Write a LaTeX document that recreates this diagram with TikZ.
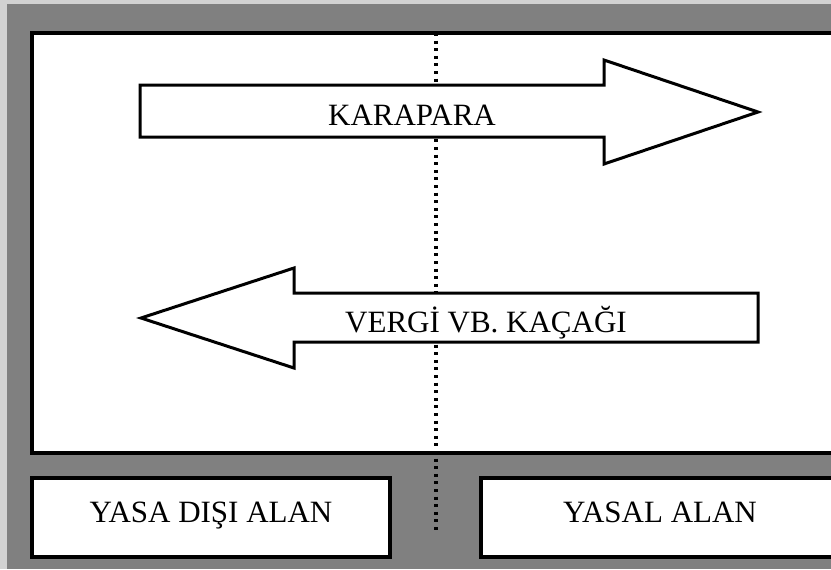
\documentclass[tikz,border=0pt]{standalone}
\usepackage{fontspec}
\setmainfont{Liberation Serif}
\usetikzlibrary{positioning}
\definecolor{figFrame}{HTML}{808080}
\definecolor{figEdge}{HTML}{D2D2D2}

\begin{document}
\begin{tikzpicture}[
  x=0.5pt,y=-0.5pt,
  font=\fontsize{15.5}{18}\selectfont,
  area/.style={draw=black,line width=1.6pt,fill=white},
  flow/.style={draw=black,line width=1.5pt,fill=white,line join=miter},
  lbl/.style={anchor=base,inner sep=0pt},
  border/.style={draw=black,line width=1.6pt,dash pattern=on 1.5pt off 2.3pt}
]
\useasboundingbox (0,0) rectangle (831,569);
\clip (0,0) rectangle (831,569);
% ---- Background ----
\fill[figEdge]  (0,0) rectangle (831,569);
\fill[figFrame] (7,4) rectangle (831,569);

% ---- Areas ----
\draw[area] (32,33)  rectangle (845,453);
\draw[area] (32,478) rectangle (390,557);
\draw[area] (481,478) rectangle (845,557);

% ---- Border line between the two fields ----
\coordinate (bTop) at (436,33);
\coordinate (bBot) at (436,532);
\draw[border] (bTop) -- (bBot);

% ---- Flow arrows ----
\draw[flow] (140,85) -- (604,85) -- (604,60) -- (758,112) -- (604,164) -- (604,137) -- (140,137) -- cycle;
\draw[flow] (758,293) -- (294,293) -- (294,268) -- (141,318) -- (294,368) -- (294,342) -- (758,342) -- cycle;

% ---- Labels ----
\node[lbl] (kara)  at (412,125) {KARAPARA};
\node[lbl] (vergi) at (486,332) {VERGİ VB. KAÇAĞI};
\node[lbl] (disi)  at (211,522) {YASA DIŞI ALAN};
\node[lbl] (yasal) at (660,522) {YASAL ALAN};
\end{tikzpicture}
\end{document}
